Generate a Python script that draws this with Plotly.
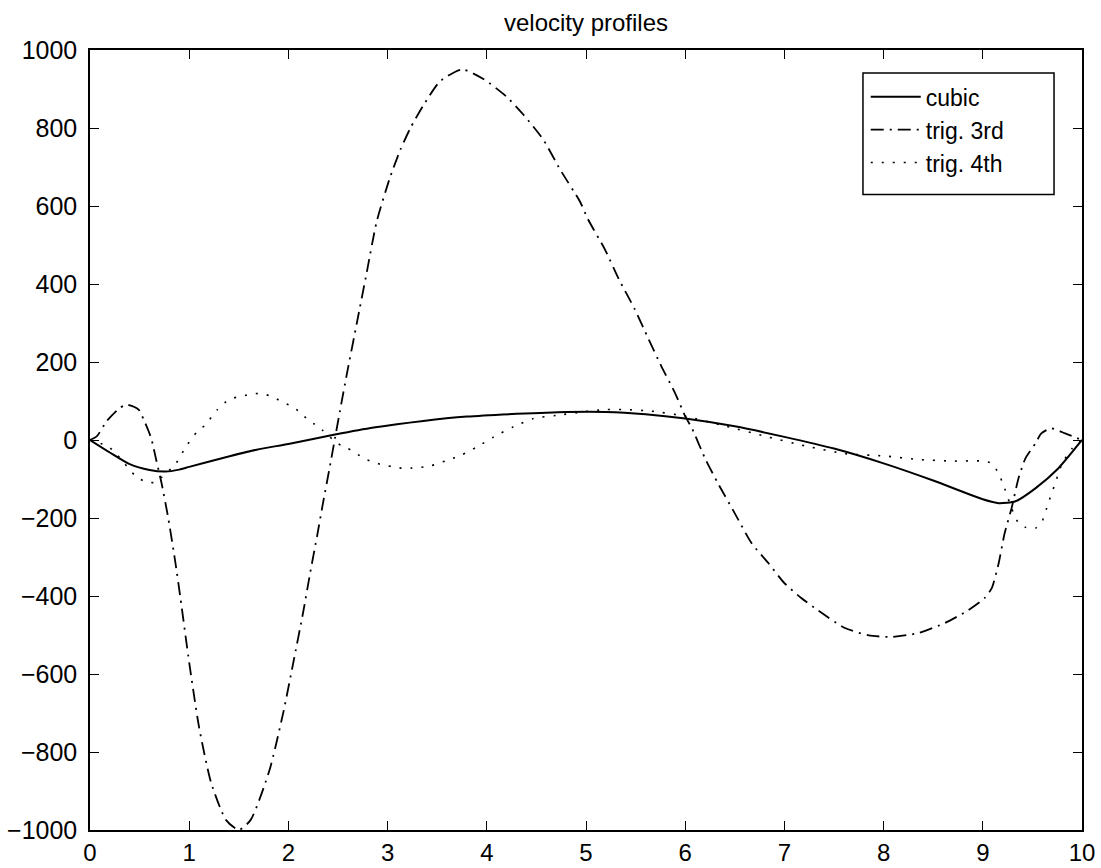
import plotly.graph_objects as go

# ---- data ----
x_cubic = [0, 0.2, 0.4, 0.6, 0.76, 0.9, 1.0, 1.34, 1.68, 2.0, 2.47, 2.86, 3.36, 3.8, 4.3, 4.8,
           5.2, 5.6, 6.0, 6.5, 7.0, 7.5, 8.0, 8.5, 9.0, 9.16, 9.33, 9.53, 9.76, 10.0]
y_cubic = [0, -32, -62, -77, -81, -76, -69, -46, -25, -10, 14, 32, 49, 60, 67, 72,
           72, 66, 55, 35, 8, -22, -60, -104, -152, -162, -157, -124, -73, 0]

x_trig3 = [0, 0.07, 0.17, 0.29, 0.37, 0.49, 0.54, 0.59, 0.62, 0.67, 0.72, 0.79, 0.86, 0.91,
           1.0, 1.1, 1.22, 1.37, 1.5, 1.62, 1.81, 1.95, 2.05, 2.15, 2.22, 2.29, 2.35, 2.42,
           2.47, 2.52, 2.59, 2.69, 2.79, 2.89, 3.02, 3.13, 3.23, 3.36, 3.53, 3.75, 3.97, 4.2,
           4.37, 4.57, 4.74, 4.94, 5.02, 5.19, 5.33, 5.49, 5.63, 5.76, 5.9, 6.0, 6.07, 6.2,
           6.33, 6.5, 6.67, 6.84, 7.0, 7.17, 7.34, 7.61, 7.85, 8.08, 8.35, 8.62, 8.85, 9.02,
           9.09, 9.16, 9.22, 9.29, 9.36, 9.43, 9.53, 9.59, 9.69, 9.83, 10.0]
y_trig3 = [0, 10, 49, 80, 91, 78, 53, 23, 2, -54, -109, -202, -313, -402,
           -571, -737, -878, -974, -1000, -974, -846, -697, -570, -440, -340, -245, -160, -65,
           5, 75, 170, 300, 430, 560, 670, 745, 800, 858, 920, 950, 925, 880,
           834, 770, 693, 611, 566, 489, 413, 336, 259, 189, 119, 61, 29, -47,
           -111, -188, -265, -316, -367, -405, -437, -482, -501, -505, -495, -469, -437, -405,
           -380, -316, -239, -175, -98, -47, -9, 17, 30, 17, 0]

x_trig4 = [0, 0.18, 0.26, 0.39, 0.45, 0.54, 0.64, 0.72, 0.87, 0.97, 1.08, 1.16, 1.28, 1.36,
           1.44, 1.54, 1.65, 1.74, 1.83, 1.92, 2.02, 2.1, 2.18, 2.26, 2.34, 2.49, 2.59, 2.67,
           2.76, 2.85, 2.95, 3.04, 3.14, 3.24, 3.34, 3.44, 3.6, 3.75, 3.9, 4.07, 4.27, 4.47,
           4.7, 4.97, 5.19, 5.39, 5.66, 6.0, 6.4, 6.8, 7.21, 7.61, 8.01, 8.35, 8.69, 8.99,
           9.09, 9.16, 9.22, 9.29, 9.36, 9.43, 9.53, 9.59, 9.66, 9.73, 9.8, 9.9, 10.0]
y_trig4 = [0, -16, -34, -73, -90, -105, -109, -96, -59, -16, 21, 38, 77, 96,
           107, 113, 119, 118, 112, 100, 88, 75, 56, 41, 26, -8, -20, -32,
           -47, -56, -64, -68, -72, -72, -70, -66, -52, -38, -18, 8, 34, 55,
           63, 72, 78, 78, 74, 61, 36, 10, -15, -35, -41, -50, -54, -54,
           -60, -86, -124, -175, -213, -224, -226, -213, -162, -111, -60, -22, 0]

series_names = ["cubic", "trig. 3rd", "trig. 4th"]
x_ticks = list(range(0, 11))
y_ticks = list(range(-1000, 1001, 200))

FONT = "Liberation Sans, Arial, Helvetica, sans-serif"

fig = go.Figure()
fig.add_trace(go.Scatter(x=x_cubic, y=y_cubic, mode="lines", name=series_names[0],
                         line=dict(color="black", width=2, shape="spline", smoothing=0.6)))
fig.add_trace(go.Scatter(x=x_trig3, y=y_trig3, mode="lines", name=series_names[1],
                         line=dict(color="black", width=1.8, dash="13px,6px,2px,6px",
                                   shape="spline", smoothing=0.6)))
fig.add_trace(go.Scatter(x=x_trig4, y=y_trig4, mode="lines", name=series_names[2],
                         line=dict(color="black", width=1.6, dash="2px,9px",
                                   shape="spline", smoothing=0.6)))

axis_common = dict(showline=True, linecolor="black", linewidth=1.5, mirror="ticks",
                   ticks="inside", ticklen=9, tickwidth=1.3, tickcolor="black",
                   showgrid=False, zeroline=False, automargin=False)

fig.update_layout(
    width=1101, height=868,
    margin=dict(l=90, r=19, t=50, b=38, autoexpand=False),
    paper_bgcolor="white", plot_bgcolor="white",
    title=dict(text="velocity profiles", x=0.5, xref="paper", y=1 - 23 / 868,
               yanchor="middle", xanchor="center", automargin=False,
               font=dict(family=FONT, size=24, color="black")),
    xaxis=dict(range=[0, 10], tickvals=x_ticks, ticklabelstandoff=0,
               tickfont=dict(family=FONT, size=24, color="black"), **axis_common),
    yaxis=dict(range=[-1000, 1000], tickvals=y_ticks, ticklabelstandoff=6,
               tickfont=dict(family=FONT, size=25, color="black"), **axis_common),
    legend=dict(x=0.782, y=0.8977, xanchor="left", yanchor="middle",
                bgcolor="rgba(0,0,0,0)", borderwidth=0,
                font=dict(family=FONT, size=23, color="black"),
                itemwidth=50),
    showlegend=True,
    shapes=[dict(type="rect", xref="paper", yref="paper",
                 x0=0.7792, x1=0.9718, y0=0.8146, y1=0.9706,
                 line=dict(color="black", width=1.5), fillcolor="rgba(0,0,0,0)")],
)

fig.write_html("out.html")
